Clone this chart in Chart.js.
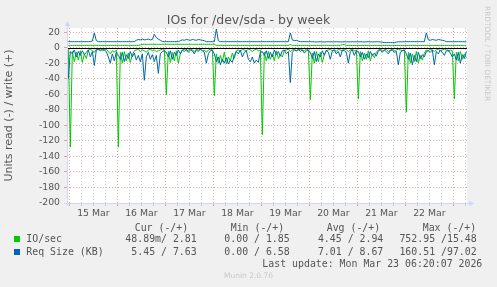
<!DOCTYPE html>
<html>
<head>
<meta charset="utf-8">
<script src="https://cdn.jsdelivr.net/npm/chart.js@4/dist/chart.umd.min.js"></script>
<style>
  body { margin: 0; background: #f0f0f0; }
  #wrap { position: relative; width: 497px; height: 287px; overflow: hidden; font-family: "DejaVu Sans"; color: #555; }
  canvas { position: absolute; left: 0; top: 0; }
  .t { position: absolute; white-space: pre; line-height: 12px; }
  .m { font-family: "DejaVu Sans Mono"; font-size: 9.9px; }
  .sq { position: absolute; width: 6px; height: 6px; }
</style>
</head>
<body>
<div id="wrap">
  <canvas id="chart" width="497" height="287"></canvas>
  <div class="t" style="left:0;width:497px;text-align:center;top:12px;font-size:12.5px;line-height:15px">IOs for /dev/sda - by week</div>
  <div class="t" style="left:483px;top:6px;font-size:7.4px;line-height:9px;color:#c8c8c8;writing-mode:vertical-rl">RRDTOOL / TOBI OETIKER</div>
  <div id="legend"></div>
  <div class="t" style="left:0;width:497px;text-align:center;top:271px;font-size:7.5px;line-height:10px;color:#c8c8c8">Munin 2.0.76</div>
</div>
<script>
// hours counted from 15 Mar 00:00, one sample per hour (at hh:30)
const FIRST_HOUR = -0.5;
const X_MIN = -1.17;
const X_MAX = 198.83;

const dayLabels = ['15 Mar', '16 Mar', '17 Mar', '18 Mar', '19 Mar', '20 Mar', '21 Mar', '22 Mar'];

// IO/sec read (drawn negative)
const ioRead = [
  -2,
  -128, -5, -18, -6, -16, -4, -19, -8, -14, -3, -2, -4, -6, -2, -3, -2, -4, -3, -2, -5, -8, -4, -6, -3,
  -128, -6, -20, -5, -17, -7, -19, -9, -4, -3, -2, -5, -3, -4, -6, -3, -2, -4, -3, -5, -4, -3, -2, -3,
  -60, -5, -19, -6, -17, -4, -20, -8, -3, -2, -4, -3, -2, -3, -5, -2, -3, -2, -4, -3, -6, -3, -2, -3,
  -62, -8, -20, -10, -18, -6, -21, -12, -17, -7, -14, -4, -3, -5, -2, -3, -4, -2, -3, -5, -3, -2, -4, -3,
  -112, -6, -17, -5, -15, -8, -17, -4, -14, -9, -12, -4, -3, -2, -5, -3, -2, -4, -3, -2, -3, -4, -2, -3,
  -67, -7, -20, -5, -18, -6, -19, -9, -4, -3, -2, -4, -3, -5, -2, -3, -4, -2, -3, -5, -3, -2, -4, -3,
  -66, -5, -17, -7, -15, -4, -17, -8, -13, -6, -3, -2, -4, -3, -2, -5, -3, -2, -4, -3, -2, -3, -4, -3,
  -83, -6, -20, -8, -18, -5, -20, -10, -16, -7, -3, -4, -2, -3, -5, -3, -2, -4, -3, -2, -3, -5, -3, -4,
  -66, -6, -17, -5, -15, -8, -13
];

// IO/sec write
const ioWrite = [
  2.9,
  2.9, 2.9, 2.9, 2.9, 2.9, 2.9, 2.9, 2.9, 2.9, 2.9, 2.9, 2.9, 2.9, 2.9, 2.9, 2.9, 2.9, 2.9, 2.9, 2.9, 2.9, 2.9, 2.9, 2.9,
  2.9, 2.9, 2.9, 2.9, 2.9, 2.9, 2.9, 2.9, 2.9, 2.9, 2.9, 3.6, 4.3, 4.3, 4.3, 4.3, 4.3, 4.3, 4.3, 4.3, 4.3, 4.3, 4.3, 4.3,
  4.3, 4.3, 4.3, 4.3, 4.3, 4.3, 4.3, 4.3, 4.3, 4.3, 4.3, 4.3, 4.3, 4.3, 4.3, 4.3, 4.3, 4.3, 4.3, 4.3, 4.3, 4.3, 4.3, 4.3,
  4.3, 2.9, 2.9, 2.9, 2.9, 2.9, 2.9, 2.9, 2.9, 2.9, 2.9, 2.9, 2.9, 2.9, 2.9, 2.9, 2.9, 2.9, 2.9, 2.9, 2.9, 2.9, 2.9, 2.9,
  2.9, 2.9, 2.9, 2.9, 2.9, 2.9, 2.9, 2.9, 2.9, 2.9, 2.9, 2.9, 2.9, 2.9, 4.0, 2.9, 2.9, 2.9, 2.9, 2.9, 2.9, 2.9, 2.9, 2.9,
  2.9, 2.9, 2.9, 2.9, 2.9, 2.9, 2.9, 2.9, 2.9, 2.9, 2.9, 2.9, 2.9, 2.9, 2.9, 2.9, 4.0, 4.0, 2.8, 2.8, 2.8, 2.8, 2.8, 2.8,
  2.8, 2.8, 2.8, 2.8, 2.8, 2.8, 2.8, 2.8, 2.8, 2.8, 2.8, 2.8, 2.8, 2.8, 2.8, 2.8, 2.8, 2.8, 2.8, 2.8, 2.8, 2.8, 2.8, 2.8,
  2.8, 2.8, 2.8, 2.8, 2.8, 2.8, 2.8, 2.8, 2.8, 2.8, 2.8, 2.8, 2.8, 2.8, 2.8, 2.8, 2.8, 2.8, 2.8, 2.8, 2.8, 2.8, 2.8, 2.8,
  2.8, 2.8, 2.8, 2.8, 2.8, 2.8, 2.8
];

// Req Size (KB) read (drawn negative)
const reqRead = [
  -40,
  -5, -8, -3, -12, -5, -10, -4, -9, -6, -3, -12, -5, -23, -3, -2, -4, -2, -3, -5, -12, -20, -8, -17, -6,
  -10, -15, -6, -18, -9, -14, -5, -12, -7, -16, -10, -18, -8, -42, -12, -6, -15, -9, -18, -10, -33, -8, -5, -4,
  -6, -12, -4, -15, -6, -10, -3, -8, -3, -5, -2, -6, -3, -4, -8, -3, -5, -2, -4, -6, -20, -8, -4, -3,
  -8, -18, -12, -22, -15, -20, -13, -21, -16, -19, -10, -5, -8, -3, -12, -6, -4, -15, -18, -12, -20, -16, -19, -6,
  -5, -10, -4, -14, -6, -12, -3, -9, -5, -11, -4, -3, -8, -5, -45, -6, -3, -4, -2, -5, -3, -7, -4, -3,
  -6, -14, -5, -18, -8, -12, -4, -10, -3, -6, -15, -4, -3, -8, -5, -12, -3, -4, -6, -20, -5, -3, -10, -4,
  -5, -12, -6, -15, -8, -13, -5, -10, -7, -11, -4, -3, -6, -3, -5, -8, -4, -3, -6, -5, -22, -6, -4, -3,
  -8, -15, -7, -22, -10, -18, -6, -14, -9, -12, -5, -4, -6, -3, -22, -5, -8, -3, -6, -10, -4, -3, -7, -12,
  -8, -16, -6, -20, -9, -14, -5
];

// Req Size (KB) write
const reqWrite = [
  7.7,
  7.7, 7.7, 7.7, 7.7, 7.7, 7.7, 7.7, 7.7, 7.7, 7.7, 7.7, 8.5, 19, 9, 7.7, 7.7, 7.7, 7.7, 7.7, 7.7, 7.7, 7.7, 7.7, 7.7,
  7.7, 7.7, 7.7, 7.7, 7.7, 7.7, 7.7, 7.7, 7.7, 9.5, 10.5, 10, 11, 10, 10.5, 11, 10, 10.5, 17, 13, 11, 9.5, 8, 7.7,
  7.7, 7.7, 7.7, 7.7, 7.7, 7.7, 7.7, 9, 10, 9.5, 10.5, 10, 9.5, 10.5, 10, 9.5, 10.5, 10, 9.5, 9, 7.7, 7.7, 7.7, 7.7,
  7.7, 24, 9, 7.7, 7.7, 7.7, 7.7, 7.7, 7.7, 7.7, 7.7, 7.7, 7.7, 7.7, 7.7, 7.7, 7.7, 7.7, 7.7, 7.7, 7.7, 7.7, 7.7, 7.7,
  7.7, 7.7, 7.7, 7.7, 7.7, 7.7, 7.7, 7.7, 7.7, 7.7, 7.7, 7.7, 7.7, 7.7, 19, 10, 9, 9.5, 8.5, 7.7, 7.7, 7.7, 7.7, 7.7,
  7.7, 7.6, 7.5, 7.3, 7.5, 7.6, 7.4, 7.3, 7.5, 7.6, 7.5, 7.4, 7.5, 7.6, 7.5, 7.3, 7.4, 7.6, 7.5, 7.5, 7.4, 7.6, 7.5, 7.5,
  7.5, 7.6, 7.5, 7.3, 7.5, 7.6, 7.5, 7.4, 7.5, 7.6, 7.5, 7.4, 7.0, 6.5, 6.5, 6.5, 6.5, 6.5, 6.5, 7.2, 7.5, 7.6, 7.5, 7.6,
  7.7, 7.7, 7.7, 7.7, 7.7, 7.7, 7.7, 7.7, 7.7, 7.7, 19, 10, 9.5, 10.5, 10, 9.5, 10.5, 10, 9.5, 9, 7.7, 7.7, 7.7, 7.7,
  7.7, 7.7, 7.7, 7.7, 7.7, 7.6, 7.6
];

// legend table
const legendHeads = ['Cur (-/+)', 'Min (-/+)', 'Avg (-/+)', 'Max (-/+)'];
const seriesNames = ['IO/sec', 'Req Size (KB)'];
const seriesColors = ['#00cc00', '#0066b3'];
const curValues = ['48.89m/ 2.81', '5.45 / 7.63'];
const minValues = ['0.00 / 1.85', '0.00 / 6.58'];
const avgValues = ['4.45 / 2.94', '7.01 / 8.67'];
const maxValues = ['752.95 /15.48', '160.51 /97.02'];
const lastUpdate = 'Last update: Mon Mar 23 06:20:07 2026';

const TEXT = '#555';
const MGRID = 'rgba(225,140,140,0.8)';
const GRID = 'rgba(190,190,190,0.8)';
const AXIS = '#cfd6f8';

const hours = ioRead.map((_, i) => FIRST_HOUR + i);
const toPoints = arr => arr.map((v, i) => ({ x: hours[i], y: v }));

// legend text (right aligned columns like rrdtool)
const legend = document.getElementById('legend');
function addText(text, left, top, right) {
  const d = document.createElement('div');
  d.className = 't m';
  d.textContent = text;
  d.style.top = top + 'px';
  if (right !== undefined) {
    d.style.right = (497 - right) + 'px';
  } else {
    d.style.left = left + 'px';
  }
  legend.appendChild(d);
}
const headLeft = [134.7, 230.7, 326.7, 422.7];
legendHeads.forEach((h, i) => addText(h, headLeft[i], 221.7));
const colRight = [196.7, 289.7, 383.3, 476.7];
seriesNames.forEach((name, r) => {
  const top = 233.3 + r * 12.4;
  const sq = document.createElement('div');
  sq.className = 'sq';
  sq.style.left = '14px';
  sq.style.top = (top + 3) + 'px';
  sq.style.background = seriesColors[r];
  legend.appendChild(sq);
  addText(name, 26.3, top);
  [curValues, minValues, avgValues, maxValues].forEach((col, c) => addText(col[r], 0, top, colRight[c]));
});
addText(lastUpdate, 0, 257.7, 482.3);

const rrdDecor = {
  id: 'rrdDecor',
  beforeDraw(chart) {
    const { ctx, chartArea: a } = chart;
    ctx.save();
    ctx.fillStyle = '#ffffff';
    ctx.fillRect(a.left, a.top, a.right - a.left, a.bottom - a.top);
    ctx.restore();
  },
  afterDatasetsDraw(chart) {
    const { ctx, chartArea: a, scales } = chart;
    const y0 = Math.round(scales.y.getPixelForValue(0)) + 0.5;
    ctx.save();
    ctx.strokeStyle = '#000';
    ctx.lineWidth = 1;
    ctx.beginPath();
    ctx.moveTo(a.left, y0);
    ctx.lineTo(a.right, y0);
    ctx.stroke();

    // axes with arrows
    const xl = Math.round(a.left) + 0.5;
    const yb = Math.round(a.bottom) + 0.5;
    ctx.strokeStyle = AXIS;
    ctx.fillStyle = AXIS;
    ctx.beginPath();
    ctx.moveTo(xl, yb + 2);
    ctx.lineTo(xl, a.top - 3);
    ctx.moveTo(a.left - 3, yb);
    ctx.lineTo(a.right + 3, yb);
    ctx.stroke();
    ctx.beginPath();
    ctx.moveTo(xl - 2.5, a.top - 2);
    ctx.lineTo(xl + 2.5, a.top - 2);
    ctx.lineTo(xl, a.top - 7);
    ctx.closePath();
    ctx.fill();
    ctx.beginPath();
    ctx.moveTo(a.right + 2, yb - 2.5);
    ctx.lineTo(a.right + 2, yb + 2.5);
    ctx.lineTo(a.right + 7, yb);
    ctx.closePath();
    ctx.fill();
    ctx.restore();
  }
};

new Chart(document.getElementById('chart'), {
  type: 'line',
  data: {
    datasets: [
      { label: 'Req Size read', data: toPoints(reqRead), borderColor: '#0066b3' },
      { label: 'Req Size write', data: toPoints(reqWrite), borderColor: '#0066b3' },
      { label: 'IO/sec read', data: toPoints(ioRead), borderColor: '#00cc00' },
      { label: 'IO/sec write', data: toPoints(ioWrite), borderColor: '#00cc00' }
    ]
  },
  options: {
    responsive: false,
    animation: false,
    layout: { padding: { top: 28, right: 30, left: 0, bottom: 0 } },
    plugins: { legend: { display: false }, title: { display: false }, tooltip: { enabled: false } },
    elements: { point: { radius: 0 }, line: { borderWidth: 1, tension: 0 } },
    scales: {
      x: {
        type: 'linear',
        min: X_MIN,
        max: X_MAX,
        afterFit: s => { s.height = 84; },
        ticks: {
          stepSize: 6,
          includeBounds: false,
          autoSkip: false,
          maxRotation: 0,
          padding: 2,
          color: TEXT,
          font: { family: 'DejaVu Sans', size: 9.3 },
          callback: v => {
            const h = Math.round(v);
            return h % 24 === 12 ? dayLabels[(h - 12) / 24] : '';
          }
        },
        grid: {
          color: c => (Math.round(c.tick.value) % 24 === 0 ? MGRID : GRID),
          tickColor: c => (Math.round(c.tick.value) % 24 === 0 ? MGRID : GRID),
          tickLength: 3
        },
        border: { display: false, dash: [1, 2] }
      },
      y: {
        min: -200,
        max: 25.3,
        afterFit: s => { s.width = 67; },
        ticks: {
          stepSize: 10,
          includeBounds: false,
          padding: 4,
          color: TEXT,
          font: { family: 'DejaVu Sans', size: 9.3 },
          callback: v => (Math.round(v) % 20 === 0 ? String(Math.round(v)) : '')
        },
        grid: {
          color: c => (Math.round(c.tick.value) % 20 === 0 ? MGRID : GRID),
          tickColor: c => (Math.round(c.tick.value) % 20 === 0 ? MGRID : GRID),
          tickLength: 3
        },
        border: { display: false, dash: [1, 2] },
        title: {
          display: true,
          text: 'Units read (-) / write (+)',
          color: TEXT,
          font: { family: 'DejaVu Sans', size: 11 },
          padding: { top: 3, bottom: 0 }
        }
      }
    }
  },
  plugins: [rrdDecor]
});
</script>
</body>
</html>
